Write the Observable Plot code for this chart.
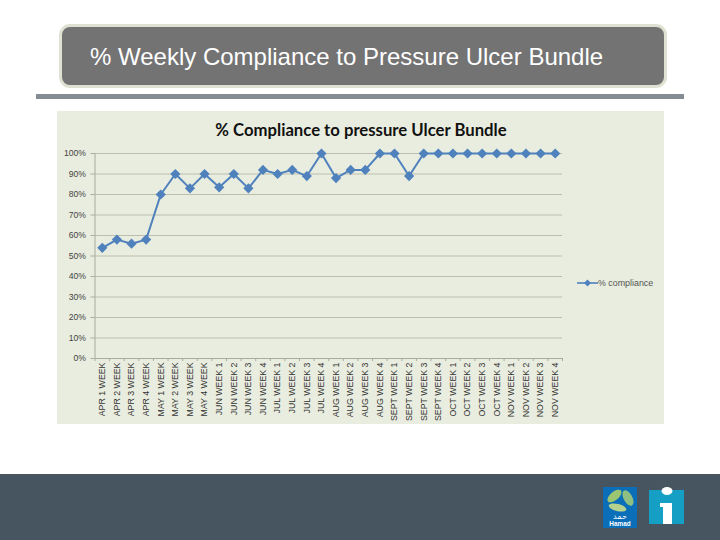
<!DOCTYPE html>
<html><head><meta charset="utf-8">
<script src="https://cdn.jsdelivr.net/npm/d3@7"></script>
<script src="https://cdn.jsdelivr.net/npm/@observablehq/plot@0.6"></script>
<style>
html,body{margin:0;padding:0;background:#fff;width:720px;height:540px;overflow:hidden}
#page{position:relative;width:720px;height:540px;font-family:"Liberation Sans",Arial,sans-serif}
#page>*{position:absolute}
#banner{left:59px;top:24px;width:602px;height:58px;background:#737373;border:3px solid #e0e1d2;border-radius:11px;color:#fff;font-size:24px;line-height:60px;text-indent:28px;white-space:nowrap}
#bar{left:36px;top:94px;width:648px;height:5px;background:#858c94}
#panel{left:57px;top:111px;width:607px;height:313px;background:#e9eddf}
#panel svg{display:block;background:transparent}
#ctitle{left:57px;top:120px;width:607px;text-align:center;font:bold 16.7px Lato,sans-serif;color:#111;text-indent:1px}
#legend{left:577px;top:276px;display:flex;align-items:center;font-size:8.9px;color:#555;white-space:nowrap;line-height:14px}
#footer{left:0;top:474px;width:720px;height:66px;background:#46555f}
#logos{left:600px;top:484px}
</style></head>
<body>
<div id="page">
  <div id="banner">% Weekly Compliance to Pressure Ulcer Bundle</div>
  <div id="bar"></div>
  <div id="panel"></div>
  <div id="ctitle">% Compliance to pressure Ulcer Bundle</div>
  <div id="legend"><svg width="21" height="10"><line x1="0" x2="21" y1="5" y2="5" stroke="#4f81bd" stroke-width="1.6"/><path d="M10.5 1.5 14 5 10.5 8.5 7 5Z" fill="#4f81bd"/></svg><span>% compliance</span></div>
  <div id="footer"></div>
  <svg id="logos" width="90" height="48" viewBox="0 0 90 48">
    <rect x="3" y="3" width="34" height="41" fill="#0a6fb8"/>
    <ellipse cx="14.5" cy="12" rx="8.5" ry="4.2" transform="rotate(-40 14.5 12)" fill="#9cc571"/>
    <ellipse cx="28" cy="14" rx="8.5" ry="4.4" transform="rotate(62 28 14)" fill="#8fbf82"/>
    <ellipse cx="17.5" cy="23.5" rx="9" ry="3.6" transform="rotate(14 17.5 23.5)" fill="#b6d28f"/>
    <text x="20" y="35" text-anchor="middle" font-family="DejaVu Sans" font-size="8" fill="#fff">حمد</text>
    <text x="20" y="42" text-anchor="middle" font-family="Liberation Sans" font-weight="bold" font-size="6.4" fill="#fff">Hamad</text>
    <rect x="49" y="6" width="35" height="34" fill="#159fc4"/>
    <ellipse cx="67" cy="7" rx="5.5" ry="4" fill="#fff"/>
    <path d="M60 19H72V40H63V23H60Z" fill="#fff"/>
  </svg>
</div>
<script>
const categories = ["APR 1 WEEK","APR 2 WEEK","APR 3 WEEK","APR 4 WEEK","MAY 1 WEEK","MAY 2 WEEK","MAY 3 WEEK","MAY 4 WEEK",
  "JUN WEEK 1","JUN WEEK 2","JUN WEEK 3","JUN WEEK 4","JUL WEEK 1","JUL WEEK 2","JUL WEEK 3","JUL WEEK 4",
  "AUG WEEK 1","AUG WEEK 2","AUG WEEK 3","AUG WEEK 4","SEPT WEEK 1","SEPT WEEK 2","SEPT WEEK 3","SEPT WEEK 4",
  "OCT WEEK 1","OCT WEEK 2","OCT WEEK 3","OCT WEEK 4","NOV WEEK 1","NOV WEEK 2","NOV WEEK 3","NOV WEEK 4"];
const compliance = [54,58,56,58,80,90,83,90,83.5,90,83,92,90,92,89,100,88,92,92,100,100,89,100,100,100,100,100,100,100,100,100,100];
const yTicks = [0,10,20,30,40,50,60,70,80,90,100];
const rows = categories.map((week,i)=>({week,value:compliance[i]}));
const step = 467.5/32;
const chart = Plot.plot({
  width:607,height:313,marginLeft:37.5,marginRight:102,marginTop:42,marginBottom:66,
  style:{background:"transparent",fontFamily:"Liberation Sans"},
  x:{type:"band",domain:categories,padding:0,round:false,label:null},
  y:{domain:[0,100],label:null},
  marks:[
    Plot.ruleY(yTicks.slice(1),{y:d=>d,stroke:"#bcbfae",strokeWidth:1,strokeOpacity:1}),
    Plot.axisY({ticks:yTicks,tickFormat:d=>d+"%",tickSize:4,tickPadding:5,stroke:"#a9ac9c",fill:"#444",fontSize:8.6,label:null}),
    Plot.ruleX([categories[0]],{x:d=>d,dx:-step/2,y1:0,y2:100,stroke:"#a9ac9c"}),
    Plot.ruleY([0],{stroke:"#a9ac9c"}),
    Plot.axisX({ticks:categories,tickSize:3,tickFormat:null,dx:-step/2,stroke:"#a9ac9c",label:null}),
    Plot.axisX({ticks:categories.slice(-1),tickSize:3,tickFormat:null,dx:step/2,stroke:"#a9ac9c",label:null}),
    Plot.axisX({ticks:categories,tickSize:0,tickPadding:4,tickRotate:-90,fill:"#333",fontSize:8.8,label:null}),
    Plot.line(rows,{x:"week",y:"value",stroke:"#4f81bd",strokeWidth:2}),
    Plot.dot(rows,{x:"week",y:"value",symbol:"diamond2",r:4.6,fill:"#4f81bd"})
  ]
});
document.getElementById("panel").appendChild(chart);
</script>
</body></html>
